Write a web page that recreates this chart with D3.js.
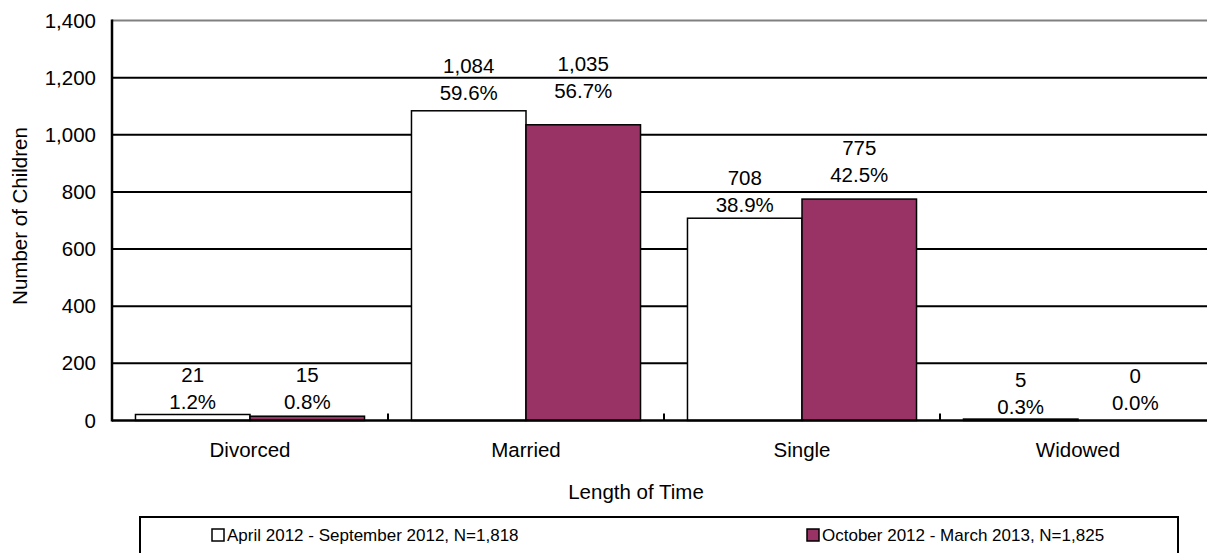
<!DOCTYPE html>
<html>
<head>
<meta charset="utf-8">
<script src="https://cdn.jsdelivr.net/npm/d3@7"></script>
<style>
  html, body { margin: 0; padding: 0; background: #fff; }
  svg { display: block; font-family: "Liberation Sans", Arial, sans-serif; }
</style>
</head>
<body>
<svg id="chart" width="1207" height="553"></svg>
<script>
// ---- data ----
const categories = ["Divorced", "Married", "Single", "Widowed"];
const seriesNames = ["April 2012 - September 2012, N=1,818", "October 2012 - March 2013, N=1,825"];
const seriesA = [21, 1084, 708, 5];
const seriesB = [15, 1035, 775, 0];
const pctA = ["1.2%", "59.6%", "38.9%", "0.3%"];
const pctB = ["0.8%", "56.7%", "42.5%", "0.0%"];
// value (in chart units) where the lower label line sits, as placed in the source
const labelAtA = [65, 1146, 754, 48];
const labelAtB = [66, 1154, 859, 62];
const yTicks = [0, 200, 400, 600, 800, 1000, 1200, 1400];

const colors = ["#ffffff", "#993366"];
const FS = 20.5;
const LFS = 17;

const svg = d3.select("#chart");
svg.append("rect").attr("width", 1207).attr("height", 553).attr("fill", "#fff");

const x0 = d3.scaleBand().domain(categories).range([112, 1216]).paddingInner(0).paddingOuter(0);
const x1 = d3.scaleBand().domain([0, 1]).range([0, x0.bandwidth()]).paddingInner(0).paddingOuter(0.205);
const y = d3.scaleLinear().domain([0, 1400]).range([420.5, 20.5]);

// gridlines
svg.append("g").selectAll("line").data(yTicks.filter(d => d > 0)).join("line")
  .attr("x1", 112).attr("x2", 1207)
  .attr("y1", d => y(d)).attr("y2", d => y(d))
  .attr("stroke", d => d === 1400 ? "#808080" : "#000")
  .attr("stroke-width", 2);

// y axis
const yAxis = d3.axisLeft(y).tickValues(yTicks).tickSize(0).tickPadding(16)
  .tickFormat(d3.format(","));
const gy = svg.append("g").attr("transform", "translate(112,0)").call(yAxis);
gy.select(".domain").remove();
gy.selectAll("text").attr("font-size", FS).attr("fill", "#000")
  .attr("font-family", "Liberation Sans, Arial, sans-serif");

// bars
const rows = categories.map((c, i) => ({ c, vals: [seriesA[i], seriesB[i]], pct: [pctA[i], pctB[i]], at: [labelAtA[i], labelAtB[i]] }));
const groups = svg.append("g").selectAll("g").data(rows).join("g")
  .attr("transform", d => `translate(${x0(d.c)},0)`);
groups.selectAll("rect").data(d => d.vals.map((v, k) => ({ v, k }))).join("rect")
  .attr("x", d => x1(d.k)).attr("width", x1.bandwidth())
  .attr("y", d => y(d.v)).attr("height", d => y(0) - y(d.v))
  .attr("fill", d => colors[d.k]).attr("stroke", "#000").attr("stroke-width", 1.5);

// labels
groups.each(function (d) {
  const g = d3.select(this);
  d.vals.forEach((v, k) => {
    const cx = x1(k) + x1.bandwidth() / 2;
    const yc = y(d.at[k]);
    g.append("text").attr("x", cx).attr("y", yc - 27).attr("dy", "0.35em")
      .attr("text-anchor", "middle").attr("font-size", FS).text(d3.format(",")(v));
    g.append("text").attr("x", cx).attr("y", yc).attr("dy", "0.35em")
      .attr("text-anchor", "middle").attr("font-size", FS).text(d.pct[k]);
  });
});

// x axis line + ticks
const xAxis = d3.axisBottom(x0).tickSize(0).tickPadding(22);
const gx = svg.append("g").attr("transform", `translate(0,${y(0)})`).call(xAxis);
gx.select(".domain").remove();
gx.selectAll("text").attr("font-size", FS).attr("fill", "#000")
  .attr("font-family", "Liberation Sans, Arial, sans-serif");
svg.append("line").attr("x1", 112).attr("x2", 1207).attr("y1", y(0)).attr("y2", y(0))
  .attr("stroke", "#000").attr("stroke-width", 2.5);
svg.append("g").selectAll("line").data(categories.slice(1)).join("line")
  .attr("x1", d => x0(d)).attr("x2", d => x0(d))
  .attr("y1", y(0)).attr("y2", y(0) - 7)
  .attr("stroke", "#000").attr("stroke-width", 2);
svg.append("line").attr("x1", 112).attr("x2", 112).attr("y1", y(1400) - 1).attr("y2", y(0) + 1)
  .attr("stroke", "#000").attr("stroke-width", 2.5);

// axis titles
svg.append("text").attr("x", 636).attr("y", 492).attr("dy", "0.35em")
  .attr("text-anchor", "middle").attr("font-size", FS).text("Length of Time");
svg.append("text").attr("transform", "translate(20,216) rotate(-90)").attr("dy", "0.35em")
  .attr("text-anchor", "middle").attr("font-size", FS).text("Number of Children");

// legend
const lg = svg.append("g");
lg.append("rect").attr("x", 140).attr("y", 517).attr("width", 1038).attr("height", 60)
  .attr("fill", "#fff").attr("stroke", "#000").attr("stroke-width", 2);
const legendX = [212, 807];
seriesNames.forEach((n, k) => {
  lg.append("rect").attr("x", legendX[k]).attr("y", 529).attr("width", 12).attr("height", 12)
    .attr("fill", colors[k]).attr("stroke", "#000").attr("stroke-width", 1.5);
  lg.append("text").attr("x", legendX[k] + 15).attr("y", 535).attr("dy", "0.35em")
    .attr("font-size", LFS).text(n);
});
</script>
</body>
</html>
